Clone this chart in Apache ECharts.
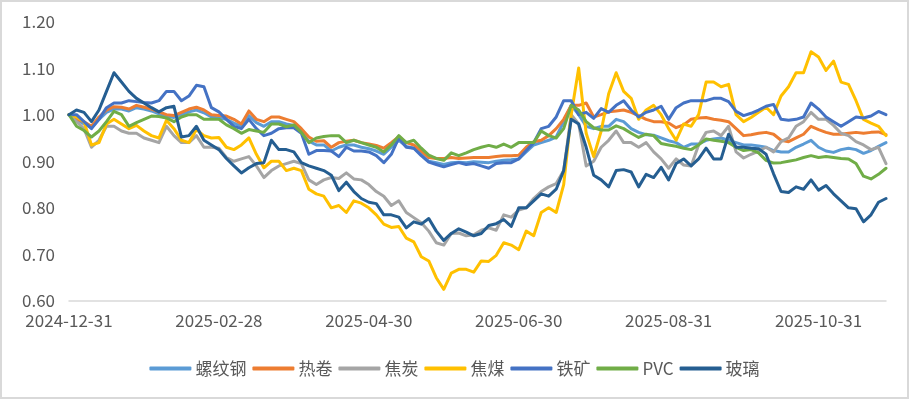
<!DOCTYPE html>
<html>
<head>
<meta charset="utf-8">
<script src="https://cdn.jsdelivr.net/npm/echarts@6/dist/echarts.min.js"></script>
<style>
html,body{margin:0;padding:0;background:#fff;}
#wrap{position:relative;width:909px;height:399px;}
#chart{position:absolute;left:0;top:0;width:909px;height:399px;}
#frame{position:absolute;left:0;top:0;width:909px;height:399px;box-sizing:border-box;border:2px solid #d9d9d9;pointer-events:none;}
</style>
</head>
<body>
<div id="wrap"><div id="chart"></div><div id="frame"></div></div>
<script>
const tickLabels = ['2024-12-31','2025-02-28','2025-04-30','2025-06-30','2025-08-31','2025-10-31'];
const seriesNames = ['螺纹钢','热卷','焦炭','焦煤','铁矿','PVC','玻璃'];
const seriesColors = ['#5B9BD5','#ED7D31','#A5A5A5','#FFC000','#4472C4','#70AD47','#255E91'];

const rebar = [1.00,0.99,0.98,0.972,0.99,1.005,1.012,1.012,1.008,1.015,1.012,1.008,1.002,0.997,0.994,1.0,1.006,1.01,1.004,0.995,
0.993,0.99,0.982,0.975,0.998,0.983,0.975,0.985,0.985,0.98,0.977,0.962,0.943,0.935,0.935,0.922,0.93,0.935,0.935,0.93,
0.927,0.922,0.915,0.93,0.945,0.932,0.928,0.915,0.9,0.897,0.893,0.897,0.898,0.897,0.899,0.898,0.897,0.9,0.902,0.903,
0.905,0.92,0.935,0.94,0.945,0.952,0.985,1.02,1.0,0.975,0.97,0.975,0.975,0.99,0.985,0.97,0.962,0.957,0.956,0.95,
0.944,0.94,0.93,0.937,0.937,0.945,0.948,0.95,0.945,0.94,0.935,0.935,0.933,0.93,0.923,0.92,0.92,0.93,0.937,0.945,
0.93,0.922,0.919,0.925,0.928,0.925,0.917,0.923,0.932,0.94];

const hotRoll = [1.00,0.99,0.985,0.975,0.995,1.01,1.017,1.016,1.012,1.02,1.016,1.012,1.006,1.0,0.998,1.005,1.012,1.016,1.01,1.0,
0.998,0.997,0.99,0.98,1.008,0.99,0.985,0.995,0.995,0.99,0.985,0.97,0.952,0.943,0.944,0.93,0.94,0.943,0.945,0.94,
0.937,0.934,0.928,0.94,0.953,0.94,0.935,0.922,0.908,0.906,0.906,0.908,0.906,0.907,0.908,0.908,0.908,0.91,0.912,0.912,
0.913,0.93,0.942,0.945,0.955,0.97,0.99,1.02,1.02,1.025,0.995,1.0,1.006,1.008,1.01,1.005,0.998,0.99,0.985,0.985,
0.982,0.972,0.978,0.99,0.993,0.994,0.99,0.988,0.985,0.97,0.955,0.957,0.96,0.962,0.958,0.945,0.942,0.95,0.958,0.975,
0.968,0.962,0.958,0.958,0.96,0.962,0.96,0.962,0.963,0.957];

const coke = [1.00,0.985,0.97,0.93,0.945,0.975,0.975,0.965,0.96,0.96,0.95,0.945,0.94,0.975,0.955,0.94,0.94,0.955,0.93,0.93,
0.928,0.908,0.90,0.905,0.91,0.89,0.865,0.88,0.89,0.895,0.90,0.895,0.86,0.85,0.86,0.865,0.863,0.875,0.862,0.86,
0.85,0.835,0.825,0.805,0.815,0.79,0.779,0.768,0.75,0.725,0.72,0.745,0.746,0.74,0.742,0.752,0.757,0.752,0.785,0.78,
0.795,0.80,0.82,0.835,0.845,0.852,0.88,1.0,0.98,0.89,0.90,0.93,0.945,0.965,0.94,0.94,0.93,0.94,0.92,0.905,
0.885,0.905,0.892,0.89,0.935,0.962,0.965,0.955,0.975,0.92,0.907,0.915,0.922,0.93,0.92,0.942,0.95,0.975,0.985,1.005,
0.99,0.99,0.977,0.96,0.955,0.942,0.935,0.925,0.93,0.895];

const cokingCoal = [1.00,0.995,0.985,0.935,0.94,0.98,0.99,0.98,0.97,0.977,0.965,0.955,0.95,0.988,0.97,0.945,0.94,0.968,0.955,0.95,
0.951,0.93,0.925,0.935,0.95,0.915,0.886,0.90,0.90,0.88,0.885,0.88,0.84,0.83,0.825,0.80,0.805,0.79,0.815,0.81,
0.80,0.785,0.765,0.758,0.76,0.735,0.727,0.695,0.686,0.65,0.625,0.66,0.668,0.668,0.662,0.686,0.685,0.698,0.725,0.72,
0.71,0.75,0.74,0.79,0.80,0.79,0.85,1.0,1.10,0.96,0.91,0.965,1.045,1.09,1.05,1.035,0.99,1.01,1.02,1.0,
0.97,0.945,0.98,0.975,1.0,1.07,1.07,1.06,1.065,1.0,0.985,0.994,1.005,1.016,1.0,1.04,1.06,1.09,1.09,1.135,
1.124,1.095,1.115,1.07,1.065,1.03,0.99,0.982,0.975,0.955];

const ironOre = [1.00,1.0,0.985,0.97,0.99,1.015,1.025,1.025,1.03,1.028,1.026,1.025,1.03,1.05,1.05,1.03,1.04,1.063,1.06,1.015,
1.006,0.99,0.975,0.97,0.99,0.97,0.955,0.96,0.97,0.972,0.972,0.96,0.915,0.923,0.923,0.922,0.91,0.93,0.922,0.922,
0.92,0.912,0.897,0.915,0.95,0.93,0.928,0.912,0.898,0.893,0.888,0.893,0.897,0.893,0.895,0.89,0.885,0.895,0.897,0.897,
0.905,0.923,0.94,0.97,0.975,0.995,1.03,1.03,1.0,1.005,0.992,1.013,1.005,1.02,1.03,1.01,0.995,1.005,1.01,1.018,
0.99,1.015,1.025,1.03,1.03,1.03,1.035,1.035,1.028,1.007,0.998,1.003,1.01,1.018,1.022,0.99,0.988,0.99,0.995,1.025,
1.012,0.995,0.985,0.975,0.985,0.995,0.993,0.997,1.007,1.0];

const pvc = [1.00,0.975,0.966,0.952,0.965,0.985,1.007,1.0,0.975,0.983,0.99,0.997,0.996,0.993,0.985,0.995,1.0,1.0,0.99,0.99,
0.99,0.978,0.97,0.96,0.968,0.965,0.962,0.98,0.98,0.974,0.978,0.962,0.94,0.95,0.953,0.955,0.955,0.94,0.945,0.94,
0.935,0.93,0.92,0.935,0.955,0.94,0.945,0.928,0.913,0.906,0.902,0.918,0.912,0.918,0.925,0.93,0.934,0.93,0.937,0.93,
0.94,0.94,0.94,0.965,0.955,0.95,0.97,1.02,1.01,0.985,0.972,0.967,0.967,0.976,0.97,0.96,0.951,0.958,0.955,0.938,
0.935,0.932,0.928,0.925,0.935,0.948,0.945,0.943,0.94,0.93,0.923,0.925,0.918,0.902,0.896,0.897,0.9,0.903,0.908,0.912,
0.908,0.91,0.908,0.906,0.905,0.895,0.868,0.862,0.872,0.885];

const glass = [1.00,1.01,1.005,0.985,1.01,1.05,1.09,1.07,1.05,1.035,1.025,1.015,1.006,1.015,1.018,0.952,0.955,0.975,0.945,0.935,
0.925,0.906,0.89,0.875,0.886,0.895,0.897,0.945,0.925,0.925,0.92,0.897,0.89,0.885,0.88,0.87,0.837,0.855,0.835,0.82,
0.812,0.809,0.785,0.785,0.78,0.757,0.77,0.765,0.777,0.75,0.73,0.745,0.755,0.748,0.74,0.745,0.762,0.766,0.775,0.76,
0.80,0.80,0.815,0.83,0.825,0.84,0.88,0.99,0.98,0.93,0.87,0.86,0.845,0.88,0.882,0.877,0.845,0.872,0.865,0.887,
0.86,0.895,0.905,0.89,0.905,0.928,0.905,0.905,0.958,0.93,0.93,0.928,0.927,0.915,0.873,0.835,0.833,0.845,0.84,0.86,
0.838,0.848,0.83,0.815,0.8,0.798,0.77,0.785,0.812,0.82];

const seriesValues = [rebar, hotRoll, coke, cokingCoal, ironOre, pvc, glass];

// category positions: a tick date every 20 points
const STEP = 20;
const categories = [];
for (let i = 0; i < rebar.length; i++) {
  const k = Math.floor(i / STEP);
  categories.push(i % STEP === 0 && k < tickLabels.length ? tickLabels[k] : 'p' + i);
}

const FONT = '"Noto Sans CJK SC", "Microsoft YaHei", sans-serif';
const chart = echarts.init(document.getElementById('chart'), null, {renderer: 'canvas'});
chart.setOption({
  animation: false,
  backgroundColor: '#fff',
  textStyle: {fontFamily: FONT},
  grid: {left: 69, right: 23, top: 21.5, bottom: 98, containLabel: false},
  legend: {
    bottom: 17,
    left: 'center',
    itemWidth: 42,
    itemHeight: 4,
    itemGap: 6,
    icon: 'roundRect',
    textStyle: {fontFamily: FONT, fontSize: 17, color: '#595959', padding: [0, 0, 0, -1]},
    data: seriesNames
  },
  xAxis: {
    type: 'category',
    data: categories,
    boundaryGap: false,
    axisLine: {lineStyle: {color: '#d9d9d9', width: 1.5}},
    axisTick: {show: false},
    splitLine: {show: false},
    axisLabel: {
      interval: STEP - 1,
      margin: 11,
      fontFamily: FONT,
      fontSize: 17,
      color: '#595959',
      formatter: function (v) { return v.charAt(0) === 'p' ? '' : v; }
    }
  },
  yAxis: {
    type: 'value',
    min: 0.6,
    max: 1.2,
    interval: 0.1,
    axisLine: {show: false},
    axisTick: {show: false},
    splitLine: {show: false},
    axisLabel: {
      margin: 14,
      fontFamily: FONT,
      fontSize: 17,
      color: '#595959',
      formatter: function (v) { return v.toFixed(2); }
    }
  },
  series: seriesNames.map(function (name, idx) {
    return {
      name: name,
      type: 'line',
      data: seriesValues[idx],
      showSymbol: false,
      symbol: 'none',
      color: seriesColors[idx],
      lineStyle: {width: 3, color: seriesColors[idx], join: 'round', cap: 'round'},
      emphasis: {disabled: true}
    };
  })
});
</script>
</body>
</html>
